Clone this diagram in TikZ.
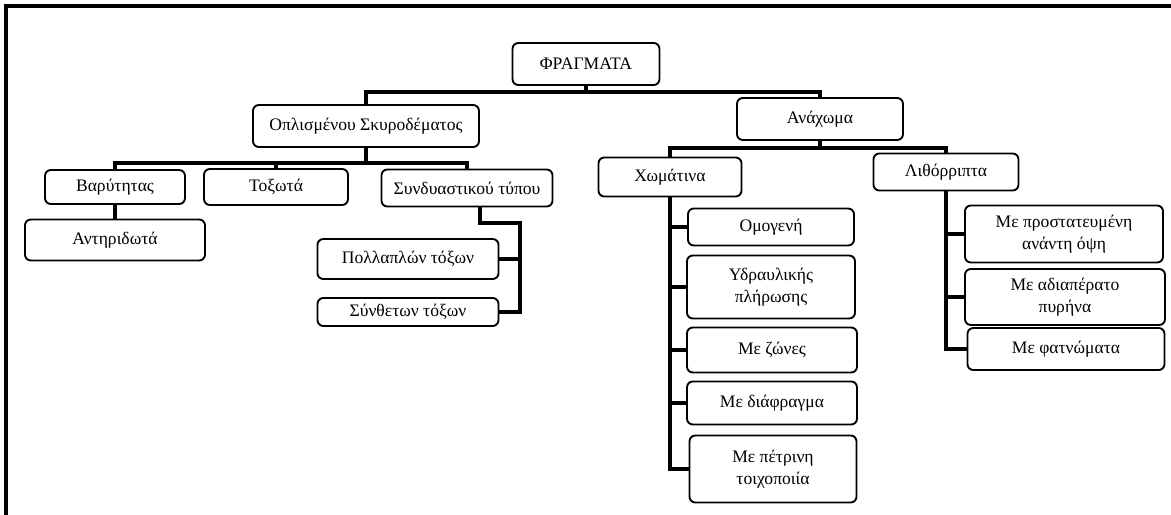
\documentclass[tikz,border=0pt]{standalone}
\usepackage{fontspec}
\setmainfont{Liberation Serif}

\tikzset{
  box/.style={draw, line width=1.6pt, rounded corners=5pt, align=center,
    inner sep=2pt, font=\fontsize{15}{19}\selectfont},
  wh/.style 2 args={minimum width=#1*0.03cm, minimum height=#2*0.03cm},
  conn/.style={line width=3.2pt},
}

\begin{document}
\begin{tikzpicture}[x=0.03cm, y=-0.03cm]
	\useasboundingbox (0,0) rectangle (1171,515);
	% Frame
	\draw[line width=2.6pt] (6,515) -- (6,6) -- (1171,6);

	% Boxes
	\node[box, wh={147}{42}] (fragm)  at (586,64)  {ΦΡΑΓΜΑΤΑ};
	\node[box, wh={226}{42}] (oplism) at (366,126) {Οπλισμένου Σκυροδέματος};
	\node[box, wh={166}{42}] (anax)   at (820,119) {Ανάχωμα};

	\node[box, wh={140}{34}] (bar)    at (115,187) {Βαρύτητας};
	\node[box, wh={144}{36}] (tox)    at (276,187) {Τοξωτά};
	\node[box, wh={171}{37}] (syndy)  at (467,188) {Συνδυαστικού τύπου};
	\node[box, wh={180}{41}] (antir)  at (115,240) {Αντηριδωτά};
	\node[box, wh={181}{40}] (poll)   at (408,259) {Πολλαπλών τόξων};
	\node[box, wh={181}{28}] (synth)  at (408,312) {Σύνθετων τόξων};

	\node[box, wh={143}{39}] (xom)    at (670,177) {Χωμάτινα};
	\node[box, wh={145}{37}] (lith)   at (946,172) {Λιθόρριπτα};

	\node[box, wh={166}{37}] (x1) at (771,227) {Ομογενή};
	\node[box, wh={168}{63}] (x2) at (771,287) {Υδραυλικής\\πλήρωσης};
	\node[box, wh={170}{45}] (x3) at (772,350) {Με ζώνες};
	\node[box, wh={170}{43}] (x4) at (772,403) {Με διάφραγμα};
	\node[box, wh={167}{67}] (x5) at (773,469) {Με πέτρινη\\τοιχοποιία};

	\node[box, wh={198}{57}] (l1) at (1064,234) {Με προστατευμένη\\ανάντη όψη};
	\node[box, wh={200}{56}] (l2) at (1065,297) {Με αδιαπέρατο\\πυρήνα};
	\node[box, wh={197}{42}] (l3) at (1066,349) {Με φατνώματα};

	% Bars
	\coordinate (b1) at (0,92);
	\coordinate (b2) at (0,163);
	\coordinate (b3) at (0,148);
	\coordinate (sj) at (520,223);

	% Links
	\draw[conn] (fragm.south) -- (fragm.south |- b1);
	\draw[conn] (oplism.north) |- (anax.north |- b1) -- (anax.north);

	\draw[conn] (oplism.south) -- (oplism.south |- b2);
	\draw[conn] (bar.north) |- (syndy.north |- b2) -- (syndy.north);
	\draw[conn] (tox.north) -- (tox.north |- b2);
	\draw[conn] (bar.south) -- (antir.north);
	\draw[conn] (syndy.south) ++(13,0) |- (sj) |- (synth.east);
	\draw[conn] (sj |- poll.east) -- (poll.east);

	\draw[conn] (anax.south) -- (anax.south |- b3);
	\draw[conn] (xom.north) |- (lith.north |- b3) -- (lith.north);

	\draw[conn] (xom.south) |- (x5.west);
	\foreach \n in {x1,x2,x3,x4}
		\draw[conn] (xom.south |- \n.west) -- (\n.west);

	\draw[conn] (lith.south) |- (l3.west);
	\foreach \n in {l1,l2}
		\draw[conn] (lith.south |- \n.west) -- (\n.west);
\end{tikzpicture}
\end{document}
